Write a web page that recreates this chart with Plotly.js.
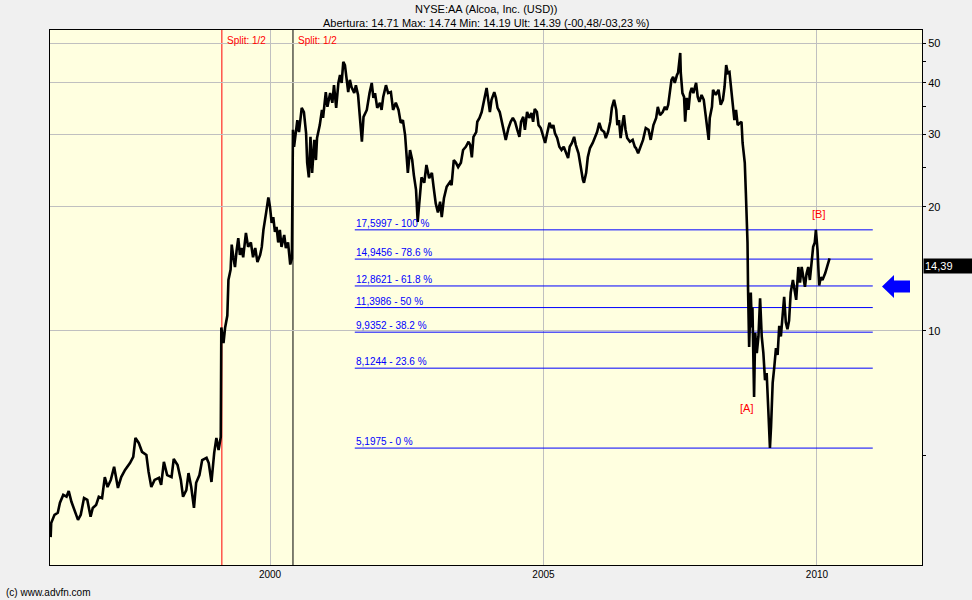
<!DOCTYPE html>
<html><head><meta charset="utf-8">
<script src="https://cdn.plot.ly/plotly-3.0.1.min.js"></script>
<style>html,body{margin:0;padding:0;background:#f0f0f0;}#chart{width:972px;height:600px;}</style>
</head><body><div id="chart"></div><script>
// ---- data ----
const years = [
1995.99,1996.00,1996.06,1996.12,1996.16,1996.22,1996.28,1996.32,1996.37,1996.42,1996.49,1996.54,1996.60,1996.66,1996.72,1996.76,1996.82,1996.87,1996.93,1996.98,
1997.03,1997.09,1997.15,1997.22,1997.28,1997.35,1997.44,1997.50,1997.54,1997.60,1997.66,1997.74,1997.78,1997.83,1997.89,1997.97,
1998.01,1998.06,1998.12,1998.20,1998.24,1998.31,1998.37,1998.41,1998.47,1998.51,1998.56,1998.61,1998.65,1998.71,1998.76,1998.84,1998.88,1998.93,1998.98,
1999.02,1999.06,1999.10,1999.11,1999.15,1999.18,1999.22,1999.24,1999.28,1999.30,1999.33,1999.36,1999.39,1999.42,1999.45,1999.48,1999.51,1999.56,1999.60,1999.65,1999.69,1999.73,1999.77,1999.82,1999.85,1999.88,1999.93,1999.97,
2000.00,2000.03,2000.06,2000.09,2000.12,2000.15,2000.18,2000.21,2000.26,2000.29,2000.33,2000.37,2000.40,2000.42,2000.44,2000.48,2000.50,2000.53,2000.58,2000.62,2000.66,2000.68,2000.71,2000.74,2000.77,2000.81,2000.84,2000.86,2000.91,2000.95,2000.97,
2001.02,2001.05,2001.10,2001.14,2001.17,2001.21,2001.25,2001.28,2001.31,2001.34,2001.37,2001.40,2001.43,2001.46,2001.49,2001.54,2001.57,2001.61,2001.65,2001.68,2001.71,2001.77,2001.82,2001.86,2001.89,2001.92,2001.96,
2002.01,2002.04,2002.07,2002.12,2002.16,2002.21,2002.25,2002.30,2002.35,2002.39,2002.43,2002.47,2002.50,2002.52,2002.56,2002.60,2002.63,2002.67,2002.70,2002.73,2002.77,2002.82,2002.86,2002.91,2002.96,2002.99,
2003.03,2003.07,2003.11,2003.14,2003.18,2003.23,2003.29,2003.32,2003.36,2003.40,2003.44,2003.49,2003.53,2003.58,2003.63,2003.66,2003.69,2003.72,2003.77,2003.79,2003.83,2003.87,2003.90,2003.93,2003.96,2003.99,
2004.02,2004.05,2004.10,2004.13,2004.16,2004.20,2004.24,2004.28,2004.31,2004.36,2004.40,2004.44,2004.48,2004.52,2004.56,2004.59,2004.63,2004.66,2004.70,2004.74,2004.78,2004.81,2004.84,2004.88,2004.91,2004.95,
2005.00,2005.03,2005.06,2005.11,2005.15,2005.18,2005.21,2005.25,2005.29,2005.33,2005.37,2005.41,2005.45,2005.48,2005.52,2005.56,2005.59,2005.64,2005.68,2005.72,2005.74,2005.78,2005.81,2005.85,2005.90,2005.94,2005.98,
2006.02,2006.06,2006.11,2006.14,2006.18,2006.22,2006.25,2006.29,2006.33,2006.35,2006.38,2006.41,2006.45,2006.47,2006.50,2006.53,2006.58,2006.63,2006.67,2006.69,2006.73,2006.78,2006.82,2006.87,2006.92,2006.96,
2007.01,2007.06,2007.09,2007.13,2007.18,2007.22,2007.25,2007.28,2007.31,2007.34,2007.37,2007.40,2007.44,2007.46,2007.50,2007.51,2007.54,2007.57,2007.59,2007.62,2007.65,2007.68,2007.71,2007.74,2007.79,2007.82,2007.85,2007.89,2007.93,2007.97,2007.99,
2008.02,2008.04,2008.08,2008.10,2008.15,2008.20,2008.24,2008.28,2008.31,2008.34,2008.37,2008.40,2008.43,2008.46,2008.49,2008.52,2008.55,2008.59,2008.62,2008.64,2008.68,2008.70,2008.73,2008.74,2008.76,2008.79,2008.81,2008.82,2008.85,2008.87,2008.90,2008.93,2008.96,2008.99,
2009.02,2009.05,2009.08,2009.11,2009.14,2009.16,2009.19,2009.22,2009.25,2009.28,2009.31,2009.34,2009.37,2009.40,2009.43,2009.46,2009.49,2009.52,2009.56,2009.59,2009.62,2009.66,2009.69,2009.72,2009.75,2009.78,2009.81,2009.84,2009.87,2009.90,2009.93,2009.96,2009.98,
2010.01,2010.02,2010.04,2010.07,2010.10,2010.15,2010.18,2010.21,2010.23
];
const prices = [
3.16,3.42,3.58,3.62,3.83,4.00,3.96,4.09,3.85,3.68,3.48,3.58,3.93,3.89,3.54,3.72,3.78,3.96,3.93,4.42,
4.18,4.35,4.68,4.16,4.42,4.60,4.78,4.95,5.50,5.35,5.09,5.00,4.55,4.18,4.35,4.40,
4.23,4.81,4.47,4.42,4.89,4.73,4.35,3.96,4.11,4.52,4.18,3.72,4.28,4.47,4.86,4.92,4.78,4.30,5.06,
5.50,5.14,5.53,10.2,9.35,10.2,10.9,13.3,14.1,16.2,15.1,14.3,15.7,16.8,15.3,15.9,15.1,17.3,16.0,16.4,15.1,15.9,14.7,15.3,16.0,17.6,19.4,21.1,
20.0,18.3,18.9,17.4,17.9,16.4,17.6,16.0,17.1,15.9,16.4,14.5,15.0,30.8,28.0,31.3,32.5,30.4,34.8,34.0,30.2,25.6,23.6,29.6,24.2,29.1,26.0,29.4,31.6,34.4,32.9,
38.0,35.0,37.8,35.8,39.5,34.8,40.0,41.8,40.0,45.0,44.2,40.7,38.0,40.7,39.1,37.8,39.5,37.4,32.5,28.8,33.1,34.4,37.8,40.0,36.8,37.8,34.8,
35.8,34.4,37.0,39.5,37.8,38.0,34.4,35.8,34.4,32.0,32.5,29.9,27.0,24.2,27.5,26.0,23.9,22.0,18.4,20.4,23.6,22.9,25.3,23.5,24.2,22.4,
20.4,19.4,20.6,18.9,21.0,22.4,23.0,22.6,26.0,25.6,25.0,25.6,27.5,28.0,28.8,28.3,26.4,29.6,30.4,32.2,32.9,34.0,35.8,37.8,38.9,36.4,
34.0,36.4,38.0,36.8,34.8,34.0,32.0,30.4,29.1,31.1,32.2,32.9,32.2,30.8,29.6,32.2,33.1,30.8,34.0,32.9,33.8,32.2,34.6,34.0,31.6,31.1,
29.4,28.6,29.9,32.0,31.1,31.6,30.2,29.4,28.0,27.5,28.0,27.0,26.3,28.0,28.6,29.6,28.3,27.0,25.0,23.3,22.9,24.2,26.4,27.8,28.6,29.4,30.4,
32.0,30.8,30.4,29.4,30.4,32.2,34.8,36.4,34.4,31.6,32.5,29.4,32.2,33.4,30.8,29.4,28.8,29.1,28.0,27.8,27.0,28.0,29.1,31.1,30.8,29.1,
31.6,32.9,35.0,33.4,34.0,35.0,34.4,35.4,38.5,40.7,41.4,40.0,41.8,42.3,47.3,42.3,37.8,37.0,32.2,36.8,34.4,37.8,38.9,37.8,40.0,37.0,36.0,37.4,36.4,32.9,31.1,
29.1,32.9,35.0,38.5,37.4,38.5,35.4,36.4,39.1,44.2,42.3,42.5,39.1,35.4,32.5,34.4,31.6,32.0,32.2,28.6,25.6,21.6,16.4,12.6,9.14,12.4,10.2,11.4,6.92,9.9,8.84,9.7,12.0,9.7,
8.84,7.6,7.91,6.44,5.20,5.85,7.48,8.18,9.09,8.75,10.3,9.7,10.8,12.1,10.5,10.1,10.6,12.4,13.3,12.6,11.9,14.3,13.1,14.3,13.5,12.8,13.8,14.3,13.3,14.6,16.0,16.4,17.6,
15.7,14.3,12.9,13.5,13.3,13.8,14.3,14.7,15.0
];
const fibValues = [17.5997, 14.9456, 12.8621, 11.3986, 9.9352, 8.1244, 5.1975];
const fibLabels = ['17,5997 - 100 %','14,9456 - 78.6 %','12,8621 - 61.8 %','11,3986 - 50 %','9,9352 - 38.2 %','8,1244 - 23.6 %','5,1975 - 0 %'];
const fibStart = 2001.55, fibEnd = 2011.02;
const splitDates = [1999.12, 2000.42];
const splitColors = ['#ff0000', '#000000'];
const splitText = 'Split: 1/2';
const waveLabels = ['[A]', '[B]'];
const waveX = [2008.72, 2010.02];
const waveY = [6.5, 19.2];
const lastPriceText = '14,39';
const lastPrice = 14.39;
const yTickVals = [10, 20, 30, 40, 50];
const yMinorVals = [5, 25, 35, 45];
const xTickVals = [2000, 2005, 2010];
const titleText = 'NYSE:AA (Alcoa, Inc. (USD))';
const subtitleText = 'Abertura: 14.71 Max: 14.74 Min: 14.19 Ult: 14.39 (-00,48/-03,23 %)';

// ---- layout helpers ----
const L = 50, T = 30, PW = 872, PH = 535;
const px = x => (x - L) / PW;
const py = y => (T + PH - y) / PH;
const FONT = 'Liberation Sans, Arial, sans-serif';

const traces = [];
fibValues.forEach(v => {
  traces.push({x: [fibStart, fibEnd], y: [v, v], mode: 'lines', type: 'scatter',
    line: {color: '#0000ff', width: 1}, hoverinfo: 'skip', showlegend: false});
});
traces.push({x: years, y: prices, mode: 'lines', type: 'scatter',
  line: {color: '#000000', width: 2.6}, showlegend: false});

const annotations = [];
fibValues.forEach((v, i) => {
  annotations.push({x: fibStart, y: Math.log10(v), xref: 'x', yref: 'y', text: fibLabels[i],
    xanchor: 'left', yanchor: 'bottom', showarrow: false, borderpad: 0, yshift: 0,
    font: {family: FONT, size: 10, color: '#0000ff'}});
});
splitDates.forEach(d => {
  annotations.push({x: d, y: 1, xref: 'x', yref: 'paper', text: splitText, xanchor: 'left', yanchor: 'top',
    xshift: 3, yshift: -3, showarrow: false, font: {family: FONT, size: 10, color: '#ff0000'}});
});
waveLabels.forEach((t, i) => {
  annotations.push({x: waveX[i], y: Math.log10(waveY[i]), xref: 'x', yref: 'y', text: t, showarrow: false,
    font: {family: FONT, size: 11, color: '#ff0000'}});
});
annotations.push({x: 1, y: Math.log10(lastPrice), xref: 'paper', yref: 'y', text: lastPriceText,
  xanchor: 'left', yanchor: 'middle', xshift: 1, showarrow: false, bgcolor: '#000000', width: 46, height: 12,
  align: 'left', borderpad: 1, font: {family: FONT, size: 11, color: '#ffffff'}});
annotations.push({x: 0.5, y: py(9.5), xref: 'paper', yref: 'paper', text: titleText, showarrow: false,
  yanchor: 'middle', font: {family: FONT, size: 11, color: '#000000'}});
annotations.push({x: 0.5, y: py(23), xref: 'paper', yref: 'paper', text: subtitleText, showarrow: false,
  yanchor: 'middle', font: {family: FONT, size: 11, color: '#000000'}});
annotations.push({x: px(4), y: py(592.5), xref: 'paper', yref: 'paper', text: '(c) www.advfn.com', showarrow: false,
  xanchor: 'left', yanchor: 'middle', font: {family: FONT, size: 10, color: '#000000'}});

const shapes = [];
splitDates.forEach((d, i) => {
  shapes.push({type: 'line', xref: 'x', yref: 'paper', x0: d, x1: d, y0: 0, y1: 1,
    line: {color: splitColors[i], width: 1}, layer: 'below'});
});
// blue arrow pointing left
const arrowPts = [[882,286.5],[894,275],[894,280.5],[910,280.5],[910,292.5],[894,292.5],[894,298]];
shapes.push({type: 'path', xref: 'paper', yref: 'paper',
  path: 'M ' + arrowPts.map(p => px(p[0]) + ',' + py(p[1])).join(' L ') + ' Z',
  fillcolor: '#0000ff', line: {width: 0}});

const layout = {
  width: 972, height: 600,
  margin: {l: L, r: 972 - L - PW, t: T, b: 600 - T - PH},
  paper_bgcolor: '#f0f0f0', plot_bgcolor: '#ffffe0',
  font: {family: FONT, size: 11, color: '#000000'},
  showlegend: false,
  xaxis: {type: 'linear', range: [1995.978, 2011.92], tickmode: 'array', tickvals: xTickVals,
    ticktext: xTickVals.map(String), ticks: '', showgrid: true, gridcolor: '#c0c0c0', gridwidth: 1,
    showline: true, linecolor: '#000000', linewidth: 1, mirror: true, zeroline: false,
    tickfont: {family: FONT, size: 10, color: '#000000'}},
  yaxis: {type: 'log', side: 'right', range: [0.432, 1.7306], tickmode: 'array', tickvals: yTickVals,
    ticktext: yTickVals.map(String), ticks: 'outside', ticklen: 3, tickcolor: '#000000',
    showgrid: true, gridcolor: '#c0c0c0', gridwidth: 1,
    minor: {tickmode: 'array', tickvals: yMinorVals, ticks: 'outside', ticklen: 3, tickcolor: '#000000', showgrid: false},
    showline: true, linecolor: '#000000', linewidth: 1, mirror: true, zeroline: false,
    tickfont: {family: FONT, size: 11, color: '#000000'}},
  annotations: annotations,
  shapes: shapes
};
Plotly.newPlot('chart', traces, layout, {staticPlot: true, displayModeBar: false});
</script></body></html>
